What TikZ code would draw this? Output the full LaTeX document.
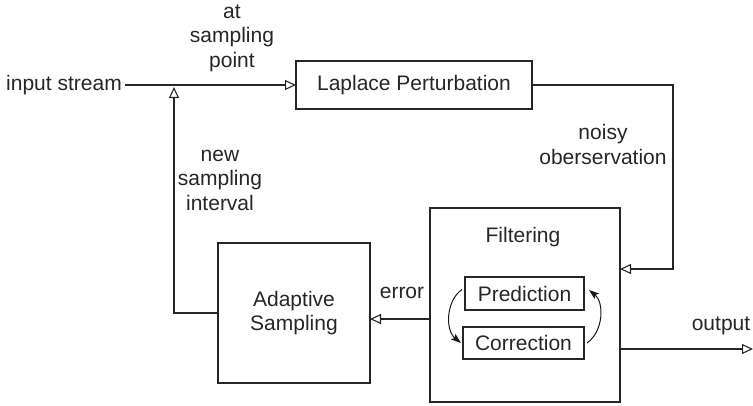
\documentclass[tikz,border=0pt]{standalone}
\usepackage{fontspec}
\setmainfont{Liberation Sans}
\usetikzlibrary{arrows.meta}
\begin{document}
\begin{tikzpicture}[x=1pt,y=-1pt,
  every node/.style={font=\fontsize{21}{24.5}\selectfont, text=black!85},
  box/.style={draw=black!85, line width=1.1pt, rectangle, inner sep=0pt, outer sep=0pt, align=center},
  lbl/.style={inner sep=0pt, align=center},
  conn/.style={draw=black!85, line width=1.1pt, -{Triangle[open,length=11pt,width=10pt,line width=1.1pt]}},
  curv/.style={draw=black!90, line width=1pt, -{Stealth[length=10pt,width=7pt,inset=2pt]}}]
\useasboundingbox (0,0) rectangle (753,405);
% nodes
\node[lbl, inner xsep=3pt] (instream) at (64,85) {input stream};
\node[box, minimum width=236pt, minimum height=48pt] (laplace) at (414,85) {Laplace Perturbation};
\node[box, minimum width=152pt, minimum height=140pt] (adaptive) at (294,313) {Adaptive\\Sampling};
\node[box, minimum width=190pt, minimum height=194pt] (filtering) at (525,305) {};
\node[lbl] (filtlbl) at (523,237) {Filtering};
\node[box, minimum width=119pt, minimum height=33pt] (pred) at (524.5,293.5) {Prediction};
\node[box, minimum width=121pt, minimum height=32pt] (corr) at (523.5,343) {Correction};
% labels
\node[lbl] (atlbl) at (232,38) {at\\sampling\\point};
\node[lbl] (newlbl) at (220,180) {new\\sampling\\interval};
\node[lbl] (noisylbl) at (603,144.5) {noisy\\oberservation};
\node[lbl] (errlbl) at (402,293) {error};
\node[lbl] (outlbl) at (721,326) {output};
% coordinates
\coordinate (jn) at (174,87);
\coordinate (nc) at (673,269);
\coordinate (erry) at (0,319);
\coordinate (outy) at (0,349);
\coordinate (outend) at (753,349);
% connectors
\draw[conn] (instream.east) -- (laplace.west);
\draw[conn] (adaptive.west) -| (jn);
\draw[conn] (laplace.east) -| (nc) -- (filtering.east |- nc);
\draw[conn] (filtering.west |- erry) -- (adaptive.east |- erry);
\draw[conn] (filtering.east |- outy) -- (outend);
\draw[curv] ([shift={(-3pt,4pt)}]pred.west) .. controls +(-16,11) and +(-16,-13) .. ([xshift=-2pt]corr.west);
\draw[curv] ([xshift=3pt]corr.east) .. controls +(17,-12) and +(15,12) .. ([shift={(5pt,3.5pt)}]pred.east);
\end{tikzpicture}
\end{document}
